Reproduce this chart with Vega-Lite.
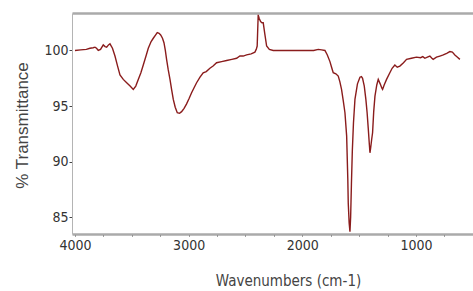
{
  "$schema": "https://vega.github.io/schema/vega-lite/v6.json",
  "autosize": {"type": "none"},
  "width": 403,
  "height": 221,
  "padding": {"left": 72, "top": 13, "right": 0, "bottom": 57},
  "background": "white",
  "config": {
    "view": {"stroke": null},
    "font": "DejaVu Sans Condensed, Liberation Sans"
  },
  "data": {
    "values": [
      {"wn": 4000, "t": 100.0}, {"wn": 3950, "t": 100.05}, {"wn": 3900, "t": 100.1}, {"wn": 3868, "t": 100.2},
      {"wn": 3840, "t": 100.25}, {"wn": 3824, "t": 100.3}, {"wn": 3810, "t": 100.2}, {"wn": 3795, "t": 100.0},
      {"wn": 3775, "t": 100.1}, {"wn": 3751, "t": 100.5}, {"wn": 3735, "t": 100.35}, {"wn": 3721, "t": 100.3},
      {"wn": 3705, "t": 100.5}, {"wn": 3692, "t": 100.6}, {"wn": 3670, "t": 100.2}, {"wn": 3648, "t": 99.5},
      {"wn": 3625, "t": 98.6}, {"wn": 3604, "t": 97.8}, {"wn": 3575, "t": 97.4}, {"wn": 3545, "t": 97.1},
      {"wn": 3515, "t": 96.8}, {"wn": 3487, "t": 96.5}, {"wn": 3465, "t": 96.8}, {"wn": 3443, "t": 97.4},
      {"wn": 3420, "t": 98.0}, {"wn": 3399, "t": 98.7}, {"wn": 3375, "t": 99.5}, {"wn": 3355, "t": 100.2},
      {"wn": 3330, "t": 100.8}, {"wn": 3311, "t": 101.1}, {"wn": 3290, "t": 101.4}, {"wn": 3276, "t": 101.6},
      {"wn": 3260, "t": 101.55}, {"wn": 3246, "t": 101.4}, {"wn": 3230, "t": 101.1}, {"wn": 3217, "t": 100.7},
      {"wn": 3205, "t": 100.0}, {"wn": 3194, "t": 99.2}, {"wn": 3180, "t": 98.3}, {"wn": 3164, "t": 97.4},
      {"wn": 3150, "t": 96.5}, {"wn": 3135, "t": 95.6}, {"wn": 3118, "t": 94.9}, {"wn": 3100, "t": 94.4},
      {"wn": 3080, "t": 94.35}, {"wn": 3062, "t": 94.5}, {"wn": 3040, "t": 94.8}, {"wn": 3018, "t": 95.2},
      {"wn": 2995, "t": 95.7}, {"wn": 2974, "t": 96.2}, {"wn": 2950, "t": 96.7}, {"wn": 2930, "t": 97.1},
      {"wn": 2900, "t": 97.6}, {"wn": 2872, "t": 98.0}, {"wn": 2845, "t": 98.1}, {"wn": 2813, "t": 98.4},
      {"wn": 2785, "t": 98.6}, {"wn": 2754, "t": 98.9}, {"wn": 2710, "t": 99.0}, {"wn": 2666, "t": 99.1},
      {"wn": 2620, "t": 99.2}, {"wn": 2578, "t": 99.3}, {"wn": 2549, "t": 99.5}, {"wn": 2520, "t": 99.5},
      {"wn": 2490, "t": 99.6}, {"wn": 2450, "t": 99.7}, {"wn": 2417, "t": 99.85}, {"wn": 2405, "t": 100.1},
      {"wn": 2397, "t": 100.4}, {"wn": 2392, "t": 102.0}, {"wn": 2388, "t": 103.2}, {"wn": 2380, "t": 102.9},
      {"wn": 2367, "t": 102.6}, {"wn": 2355, "t": 102.5}, {"wn": 2344, "t": 102.5}, {"wn": 2330, "t": 101.5},
      {"wn": 2314, "t": 100.4}, {"wn": 2290, "t": 100.1}, {"wn": 2256, "t": 100.0}, {"wn": 2200, "t": 100.0},
      {"wn": 2153, "t": 100.0}, {"wn": 2000, "t": 100.0}, {"wn": 1900, "t": 100.0}, {"wn": 1860, "t": 100.1},
      {"wn": 1830, "t": 100.05}, {"wn": 1801, "t": 100.0}, {"wn": 1780, "t": 99.6}, {"wn": 1757, "t": 99.0},
      {"wn": 1740, "t": 98.4}, {"wn": 1728, "t": 98.0}, {"wn": 1705, "t": 97.9}, {"wn": 1684, "t": 97.7},
      {"wn": 1670, "t": 97.2}, {"wn": 1655, "t": 96.5}, {"wn": 1640, "t": 95.5}, {"wn": 1625, "t": 94.4},
      {"wn": 1610, "t": 92.3}, {"wn": 1600, "t": 88.5}, {"wn": 1596, "t": 86.3}, {"wn": 1588, "t": 84.5},
      {"wn": 1581, "t": 83.7}, {"wn": 1575, "t": 85.0}, {"wn": 1568, "t": 88.0}, {"wn": 1560, "t": 91.0},
      {"wn": 1550, "t": 93.5}, {"wn": 1537, "t": 95.6}, {"wn": 1515, "t": 97.0}, {"wn": 1493, "t": 97.6},
      {"wn": 1480, "t": 97.65}, {"wn": 1470, "t": 97.5}, {"wn": 1455, "t": 96.8}, {"wn": 1441, "t": 95.6},
      {"wn": 1430, "t": 94.4}, {"wn": 1420, "t": 93.0}, {"wn": 1410, "t": 91.5}, {"wn": 1405, "t": 90.8},
      {"wn": 1398, "t": 91.3}, {"wn": 1390, "t": 92.0}, {"wn": 1382, "t": 92.6}, {"wn": 1372, "t": 94.5},
      {"wn": 1361, "t": 95.9}, {"wn": 1345, "t": 96.9}, {"wn": 1332, "t": 97.4}, {"wn": 1315, "t": 97.0},
      {"wn": 1300, "t": 96.6}, {"wn": 1294, "t": 96.5}, {"wn": 1280, "t": 96.9}, {"wn": 1259, "t": 97.4},
      {"wn": 1230, "t": 98.0}, {"wn": 1210, "t": 98.4}, {"wn": 1186, "t": 98.7}, {"wn": 1165, "t": 98.5},
      {"wn": 1142, "t": 98.6}, {"wn": 1110, "t": 98.9}, {"wn": 1083, "t": 99.2}, {"wn": 1040, "t": 99.3},
      {"wn": 996, "t": 99.4}, {"wn": 960, "t": 99.35}, {"wn": 940, "t": 99.45}, {"wn": 922, "t": 99.3},
      {"wn": 900, "t": 99.4}, {"wn": 878, "t": 99.5}, {"wn": 860, "t": 99.3}, {"wn": 849, "t": 99.2},
      {"wn": 820, "t": 99.4}, {"wn": 790, "t": 99.5}, {"wn": 760, "t": 99.6}, {"wn": 730, "t": 99.75},
      {"wn": 702, "t": 99.9}, {"wn": 680, "t": 99.85}, {"wn": 658, "t": 99.6}, {"wn": 635, "t": 99.4},
      {"wn": 614, "t": 99.2}
    ]
  },
  "layer": [
    {
      "mark": {"type": "line", "color": "#8a1c1c", "strokeWidth": 1.4, "clip": true, "interpolate": "linear"},
      "encoding": {
        "x": {
          "field": "wn", "type": "quantitative",
          "scale": {"domain": [481, 4026], "reverse": true, "nice": false, "zero": false},
          "axis": {
            "orient": "bottom",
            "values": [4000, 3750, 3500, 3250, 3000, 2750, 2500, 2250, 2000, 1750, 1500, 1250, 1000, 750, 500],
            "format": "d",
            "labelExpr": "datum.value % 1000 === 0 ? datum.label : ''",
            "grid": false,
            "domainColor": "#aaaaaa", "domainWidth": 2.5,
            "tickColor": "#444444", "tickSize": 2, "tickWidth": 1, "tickOffset": 0,
            "labelFont": "DejaVu Sans Condensed, Liberation Sans", "labelFontSize": 14, "labelColor": "#333333",
            "labelPadding": 2, "labelFlush": false,
            "title": "Wavenumbers (cm-1)",
            "titleFont": "DejaVu Sans Condensed, Liberation Sans", "titleFontSize": 15, "titleFontWeight": "normal",
            "titleColor": "#444444", "titleX": 216, "titleY": 46, "titleBaseline": "middle"
          }
        },
        "y": {
          "field": "t", "type": "quantitative",
          "scale": {"domain": [83.5, 103.37], "nice": false, "zero": false},
          "axis": {
            "values": [85, 90, 95, 100],
            "grid": false,
            "domainColor": "#b4b4b4", "domainWidth": 1,
            "tickColor": "#444444", "tickSize": 3, "tickWidth": 1,
            "labelFont": "DejaVu Sans Condensed, Liberation Sans", "labelFontSize": 14, "labelColor": "#333333",
            "labelPadding": 1,
            "title": "% Transmittance",
            "titleFont": "Liberation Sans", "titleFontSize": 17, "titleFontWeight": "normal",
            "titleColor": "#444444", "titleX": -50, "titleY": 112, "titleBaseline": "middle", "titleAngle": -90
          }
        }
      }
    },
    {
      "mark": {"type": "line", "opacity": 0, "clip": true},
      "encoding": {
        "x": {
          "field": "wn", "type": "quantitative",
          "axis": {"orient": "top", "labels": false, "ticks": false, "grid": false, "title": null,
                   "domainColor": "#aaaaaa", "domainWidth": 2.5}
        },
        "y": {"field": "t", "type": "quantitative"}
      }
    }
  ],
  "resolve": {"axis": {"x": "independent"}}
}
